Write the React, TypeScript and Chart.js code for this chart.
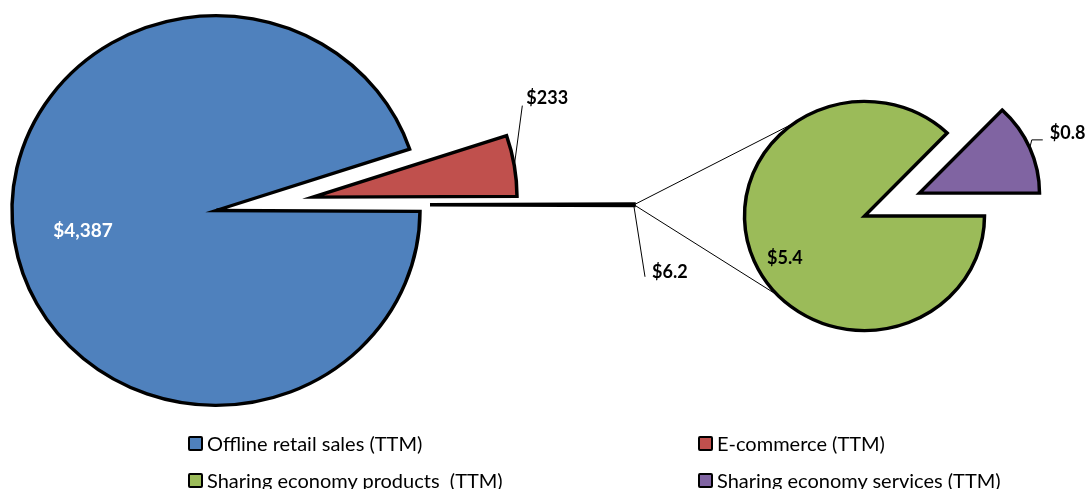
import React, { useEffect, useRef } from "react";
import { Chart, registerables } from "chart.js";

Chart.register(...registerables);

// ---- data ----
const mainLabels = ["Offline retail sales (TTM)", "E-commerce (TTM)", "Sharing economy (TTM)"];
const mainValues = [4387, 233, 6.2];
const mainValueLabels = ["$4,387", "$233", "$6.2"];

const subLabels = ["Sharing economy products  (TTM)", "Sharing economy services (TTM)"];
const subValues = [5.4, 0.8];
const subValueLabels = ["$5.4", "$0.8"];

const legendLabels = [
  "Offline retail sales (TTM)",
  "E-commerce (TTM)",
  "Sharing economy products  (TTM)",
  "Sharing economy services (TTM)",
];

// ---- styles ----
const mainColors = ["#4F81BD", "#C0504D", "#FFFFFF"];
const subColors = ["#9BBB59", "#8064A2"];
const legendColors = ["#4F81BD", "#C0504D", "#9BBB59", "#8064A2"];
const MAIN_SHIFT = [[0, 0], [97, -14], [214, -6]];
const SUB_SHIFT = [[0, 0], [55, -24]];
const SQUASH = 0.955; // vertical aspect of the original plot
const W = 1092;
const H = 489;
const LABEL_FONT = "bold 18px Lato";
const BORDER = 3.5;

const explode = (shifts: number[][]) => ({
  id: "explode",
  afterDatasetsUpdate(chart: any) {
    const meta = chart.getDatasetMeta(0);
    meta.data.forEach((arc: any, i: number) => {
      arc.x += shifts[i][0];
      arc.y += shifts[i][1];
    });
  },
});

const cyOf = (chart: any) => (chart.chartArea.top + chart.chartArea.bottom) / 2;

const squash = {
  id: "squash",
  beforeDatasetsDraw(chart: any) {
    const ctx = chart.ctx;
    const cy = cyOf(chart);
    ctx.save();
    ctx.translate(0, cy);
    ctx.scale(1, SQUASH);
    ctx.translate(0, -cy);
  },
  afterDatasetsDraw(chart: any) {
    chart.ctx.restore();
  },
};

const mid = (a: any) => (a.startAngle + a.endAngle) / 2;
// point on an arc (in layout space), then mapped to screen space
const pt = (chart: any, a: any, r: number, ang: number) => {
  const cy = cyOf(chart);
  const x = a.x + r * Math.cos(ang);
  const y = a.y + r * Math.sin(ang);
  return [x, cy + (y - cy) * SQUASH];
};

function line(ctx: CanvasRenderingContext2D, pts: number[][]) {
  ctx.beginPath();
  ctx.moveTo(pts[0][0], pts[0][1]);
  for (let i = 1; i < pts.length; i++) ctx.lineTo(pts[i][0], pts[i][1]);
  ctx.stroke();
}

export default function App() {
  const leftRef = useRef<HTMLCanvasElement>(null);
  const rightRef = useRef<HTMLCanvasElement>(null);

  useEffect(() => {
    const total = mainValues.reduce((s, v) => s + v, 0);
    const rotation = 90 + (180 * mainValues[2]) / total;

    const mainLabelPlugin = {
      id: "mainLabels",
      afterDraw(chart: any) {
        const ctx = chart.ctx as CanvasRenderingContext2D;
        const arcs = chart.getDatasetMeta(0).data;
        ctx.save();
        ctx.textBaseline = "middle";
        ctx.strokeStyle = "#000";
        ctx.lineWidth = 1;
        // offline
        const a0 = arcs[0];
        const p0 = pt(chart, a0, a0.outerRadius * 0.66, mid(a0));
        ctx.font = "bold 19px Lato";
        ctx.fillStyle = "#FFFFFF";
        ctx.textAlign = "center";
        ctx.fillText(mainValueLabels[0], p0[0], p0[1]);
        // e-commerce
        ctx.font = LABEL_FONT;
        ctx.fillStyle = "#000";
        ctx.textAlign = "left";
        const a1 = arcs[1];
        const s1 = pt(chart, a1, a1.outerRadius, mid(a1));
        const e1 = [s1[0] + 8, s1[1] - 60];
        line(ctx, [s1, e1]);
        ctx.fillText(mainValueLabels[1], e1[0] + 4, e1[1] - 7);
        // sharing
        const a2 = arcs[2];
        const s2 = pt(chart, a2, a2.outerRadius, mid(a2));
        const e2 = [s2[0] + 11, s2[1] + 72];
        line(ctx, [[s2[0], s2[1] + 2], e2]);
        ctx.fillText(mainValueLabels[2], e2[0] + 7, e2[1] - 5);
        ctx.restore();
      },
    };

    const left = new Chart(leftRef.current!, {
      type: "pie",
      data: {
        labels: mainLabels,
        datasets: [
          {
            data: mainValues,
            backgroundColor: mainColors,
            borderColor: "#000000",
            borderWidth: BORDER,
            borderJoinStyle: "miter",
            borderAlign: "center",
            clip: false,
          } as any,
        ],
      },
      options: {
        responsive: false,
        animation: false,
        events: [],
        rotation,
        radius: 204,
        layout: { padding: { left: 0, right: W - 432, top: 0, bottom: H - 421 } },
        plugins: { legend: { display: false }, tooltip: { enabled: false } },
      } as any,
      plugins: [explode(MAIN_SHIFT), squash, mainLabelPlugin],
    });

    const subLabelPlugin = {
      id: "subLabels",
      afterDraw(chart: any) {
        const ctx = chart.ctx as CanvasRenderingContext2D;
        const arcs = chart.getDatasetMeta(0).data;
        const share = left.getDatasetMeta(0).data[2] as any;
        const P = pt(left, share, share.outerRadius, mid(share));
        const g = arcs[0];
        ctx.save();
        ctx.strokeStyle = "#000";
        ctx.lineWidth = 1;
        const d2r = Math.PI / 180;
        line(ctx, [P, pt(chart, g, g.outerRadius, 234.5 * d2r)]);
        line(ctx, [P, pt(chart, g, g.outerRadius, 136 * d2r)]);
        ctx.font = LABEL_FONT;
        ctx.textBaseline = "middle";
        ctx.fillStyle = "#000";
        ctx.textAlign = "center";
        const p0 = pt(chart, g, g.outerRadius * 0.74, mid(g));
        ctx.fillText(subValueLabels[0], p0[0] + 2, p0[1] + 9);
        const a1 = arcs[1];
        const s1 = pt(chart, a1, a1.outerRadius, mid(a1));
        const k1 = [s1[0] + 2, s1[1] - 8];
        const e1 = [k1[0] + 11, k1[1]];
        line(ctx, [s1, k1, e1]);
        ctx.textAlign = "left";
        ctx.fillText(subValueLabels[1], e1[0] + 7, e1[1] - 7);
        ctx.restore();
      },
    };

    const right = new Chart(rightRef.current!, {
      type: "pie",
      data: {
        labels: subLabels,
        datasets: [
          {
            data: subValues,
            backgroundColor: subColors,
            borderColor: "#000000",
            borderWidth: BORDER,
            borderJoinStyle: "miter",
            borderAlign: "center",
            clip: false,
          } as any,
        ],
      },
      options: {
        responsive: false,
        animation: false,
        events: [],
        rotation: 90,
        radius: 120,
        layout: { padding: { left: 744, right: W - 985, top: 96, bottom: H - 336 } },
        plugins: { legend: { display: false }, tooltip: { enabled: false } },
      } as any,
      plugins: [explode(SUB_SHIFT), squash, subLabelPlugin],
    });

    return () => {
      right.destroy();
      left.destroy();
    };
  }, []);

  const legendPos = [
    [188, 443],
    [698, 443],
    [188, 480],
    [698, 480],
  ];

  return (
    <div style={{ position: "absolute", left: 0, top: 0, width: W, height: H, overflow: "hidden", background: "#fff" }}>
      <canvas ref={leftRef} width={W} height={H} style={{ position: "absolute", left: 0, top: 0 }} />
      <canvas ref={rightRef} width={W} height={H} style={{ position: "absolute", left: 0, top: 0 }} />
      {legendLabels.map((lab, i) => (
        <div
          key={lab}
          style={{
            position: "absolute",
            left: legendPos[i][0],
            top: legendPos[i][1] - 14,
            height: 28,
            display: "flex",
            alignItems: "center",
            whiteSpace: "pre",
            fontFamily: "Lato",
            fontSize: 20,
            color: "#000",
          }}
        >
          <span
            style={{
              display: "inline-block",
              width: 11,
              height: 11,
              border: "2.5px solid #000",
              borderRadius: 2,
              background: legendColors[i],
              marginRight: 4,
            }}
          />
          <span>{lab}</span>
        </div>
      ))}
    </div>
  );
}
